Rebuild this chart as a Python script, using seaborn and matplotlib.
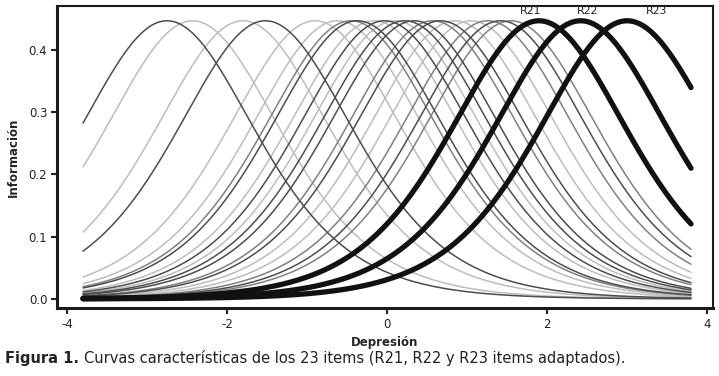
import matplotlib
matplotlib.use("Agg")
import matplotlib.pyplot as plt
import numpy as np
import pandas as pd
import seaborn as sns

items = ["R1", "R2", "R3", "R4", "R5", "R6", "R7", "R8", "R9", "R10",
         "R11", "R12", "R13", "R14", "R15", "R16", "R17", "R18", "R19", "R20"]
item_b = [-2.75, -2.43, -1.80, -1.52, -0.90, -0.62, -0.45, -0.37, -0.16, -0.03,
          0.10, 0.22, 0.34, 0.57, 0.67, 0.85, 1.05, 1.26, 1.42, 1.55]
item_shade = ["dark", "light", "light", "dark", "light", "light", "mid", "dark", "light", "dark",
              "light", "dark", "dark", "mid", "dark", "light", "light", "mid", "dark", "mid"]

adapted = ["R21", "R22", "R23"]
adapted_b = [1.90, 2.42, 3.00]

slope = 1.34
peak_info = 0.447

shade_colors = {"dark": "#4d4d4d", "mid": "#808080", "light": "#bdbdbd"}


def info_curve(b, theta):
    p = 1.0 / (1.0 + np.exp(-slope * (theta - b)))
    return peak_info * 4 * p * (1 - p)


theta = np.linspace(-3.8, 3.8, 400)

rows = []
for name, b in zip(items, item_b):
    rows.append(pd.DataFrame({"theta": theta, "info": info_curve(b, theta), "item": name}))
df_items = pd.concat(rows, ignore_index=True)

rows = []
for name, b in zip(adapted, adapted_b):
    rows.append(pd.DataFrame({"theta": theta, "info": info_curve(b, theta), "item": name}))
df_adapted = pd.concat(rows, ignore_index=True)

sns.set_theme(style="white")
plt.rcParams["font.family"] = ["DejaVu Sans"]

fig = plt.figure(figsize=(7.19, 3.76), dpi=100)
ax = fig.add_axes([0.0793, 0.181, 0.9124, 0.803])

# light curves first so darker ones sit on top
order = {"light": 0, "mid": 1, "dark": 2}
for shade in sorted(shade_colors, key=lambda s: order[s]):
    names = [n for n, s in zip(items, item_shade) if s == shade]
    sub = df_items[df_items["item"].isin(names)]
    sns.lineplot(data=sub, x="theta", y="info", hue="item",
                 palette={n: shade_colors[shade] for n in names},
                 legend=False, linewidth=1.1, ax=ax, estimator=None)

sns.lineplot(data=df_adapted, x="theta", y="info", hue="item",
             palette={n: "#111111" for n in adapted},
             legend=False, linewidth=3.8, ax=ax, estimator=None)

label_x = [1.79, 2.51, 3.37]
for name, lx in zip(adapted, label_x):
    ax.text(lx, 0.462, name, ha="center", va="center", fontsize=7.8, color="#222222")

ax.set_xlim(-4.125, 4.075)
ax.set_ylim(-0.0145, 0.4707)
ax.set_xticks([-4, -2, 0, 2, 4])
ax.set_xticklabels(["-4", "-2", "0", "2", "4"])
ax.set_yticks([0.0, 0.1, 0.2, 0.3, 0.4])
ax.set_yticklabels(["0.0", "0.1", "0.2", "0.3", "0.4"])
ax.tick_params(axis="both", direction="out", length=4, width=1.5, labelsize=8.5,
               colors="#222222", bottom=True, left=True, pad=3)

for side in ["left", "bottom"]:
    ax.spines[side].set_linewidth(2.2)
    ax.spines[side].set_color("#1a1a1a")
for side in ["top", "right"]:
    ax.spines[side].set_linewidth(1.5)
    ax.spines[side].set_color("#1a1a1a")

ax.set_xlabel("Depresión", fontsize=8.5, fontweight="bold", labelpad=4)
ax.set_ylabel("Información", fontsize=8.5, fontweight="bold", labelpad=6)

# caption: bold lead-in followed by the normal text
cap1 = fig.text(0.007, 0.034, "Figura 1.", fontsize=10.5, fontweight="bold", color="#222222")
fig.canvas.draw()
bb = cap1.get_window_extent(renderer=fig.canvas.get_renderer())
x_next = (bb.x1 + 5) / fig.bbox.width
fig.text(x_next, 0.034, "Curvas características de los 23 items (R21, R22 y R23 items adaptados).",
         fontsize=10.5, color="#222222")

fig.savefig("out.png", dpi=100)
